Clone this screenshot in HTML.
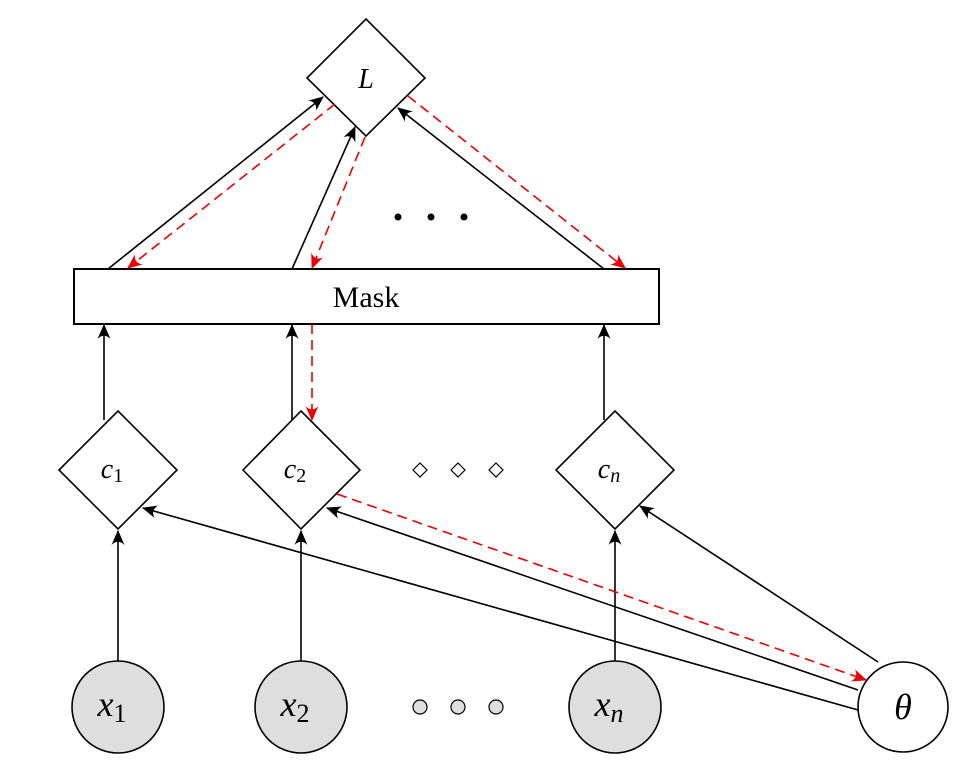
<!DOCTYPE html>
<html><head><meta charset="utf-8"><style>
html,body{margin:0;padding:0;background:#fff;}
svg{display:block;}
text{font-family:"Liberation Serif",serif;}
</style></head><body>
<svg width="963" height="771" viewBox="0 0 963 771" xmlns="http://www.w3.org/2000/svg">
<defs>
<marker id="a" viewBox="0 0 14 12" refX="13" refY="6" markerWidth="15" markerHeight="13" markerUnits="userSpaceOnUse" orient="auto">
<path d="M0,0 Q6,6 0,12 L14,6 Z" fill="#000"/></marker>
<marker id="r" viewBox="0 0 14 12" refX="13" refY="6" markerWidth="15" markerHeight="13" markerUnits="userSpaceOnUse" orient="auto">
<path d="M0,0 Q6,6 0,12 L14,6 Z" fill="#e00"/></marker>
</defs>
<g fill="none" stroke="#000" stroke-width="1.6">
<polygon points="366,19 425,78 366,136 307,78" fill="#fff"/>
<rect x="74" y="269" width="585" height="55" fill="#fff" stroke-width="2"/>
<polygon points="118,411 177,470 118,529 59,470" fill="#fff"/>
<polygon points="301,411 360,470 301,529 243,470" fill="#fff"/>
<polygon points="615,411 674,470 615,529 556,470" fill="#fff"/>
<polygon points="420,463 427,470 420,477 413,470" fill="#fff" stroke-width="1.2"/>
<polygon points="458,463 465,470 458,477 451,470" fill="#fff" stroke-width="1.2"/>
<polygon points="496,463 503,470 496,477 489,470" fill="#fff" stroke-width="1.2"/>
<circle cx="118" cy="707" r="46" fill="#dedede"/>
<circle cx="301" cy="707" r="46" fill="#dedede"/>
<circle cx="615" cy="707" r="46" fill="#dedede"/>
<circle cx="903" cy="707" r="45" fill="#fff"/>
<circle cx="420" cy="707" r="7" fill="#dedede" stroke-width="1.2"/>
<circle cx="458" cy="707" r="7" fill="#dedede" stroke-width="1.2"/>
<circle cx="496" cy="707" r="7" fill="#dedede" stroke-width="1.2"/>

<line x1="108" y1="269" x2="323" y2="97" marker-end="url(#a)"/>
<line x1="292" y1="269" x2="355" y2="127" marker-end="url(#a)"/>
<line x1="604" y1="269" x2="398" y2="108" marker-end="url(#a)"/>
<line x1="104" y1="420" x2="104" y2="325" marker-end="url(#a)"/>
<line x1="292" y1="420" x2="292" y2="325" marker-end="url(#a)"/>
<line x1="604" y1="420" x2="604" y2="325" marker-end="url(#a)"/>
<line x1="118" y1="661" x2="118" y2="531" marker-end="url(#a)"/>
<line x1="301" y1="661" x2="301" y2="531" marker-end="url(#a)"/>
<line x1="615" y1="661" x2="615" y2="531" marker-end="url(#a)"/>
<line x1="858" y1="710" x2="143" y2="508" marker-end="url(#a)"/>
<line x1="858" y1="690" x2="327" y2="508" marker-end="url(#a)"/>
<line x1="878" y1="662" x2="640" y2="506" marker-end="url(#a)"/>
</g>
<g fill="none" stroke="#e00" stroke-width="1.6" stroke-dasharray="10,6">
<line x1="335" y1="104" x2="128" y2="268" marker-end="url(#r)"/>
<line x1="365" y1="137" x2="312" y2="268" marker-end="url(#r)"/>
<line x1="408" y1="96" x2="625" y2="268" marker-end="url(#r)"/>
<line x1="312" y1="324" x2="312" y2="420" marker-end="url(#r)"/>
<line x1="337" y1="494" x2="866" y2="680" marker-end="url(#r)"/>
</g>
<g fill="#000">
<circle cx="398" cy="217" r="3.5"/><circle cx="431" cy="217" r="3.5"/><circle cx="464" cy="217" r="3.5"/>
</g>
<text x="366" y="88" font-size="28" font-style="italic" text-anchor="middle">L</text>
<text x="366" y="307" font-size="30" text-anchor="middle">Mask</text>
<text x="112" y="478" font-size="28" font-style="italic" text-anchor="middle">c<tspan font-style="normal" font-size="20" dy="4">1</tspan></text>
<text x="295" y="478" font-size="28" font-style="italic" text-anchor="middle">c<tspan font-style="normal" font-size="20" dy="4">2</tspan></text>
<text x="609" y="478" font-size="28" font-style="italic" text-anchor="middle">c<tspan font-size="20" dy="4">n</tspan></text>
<text x="112" y="716" font-size="36" font-style="italic" text-anchor="middle">x<tspan font-style="normal" font-size="26" dy="6">1</tspan></text>
<text x="295" y="716" font-size="36" font-style="italic" text-anchor="middle">x<tspan font-style="normal" font-size="26" dy="6">2</tspan></text>
<text x="609" y="716" font-size="36" font-style="italic" text-anchor="middle">x<tspan font-size="26" dy="6">n</tspan></text>
<text x="903" y="719" font-size="36" font-style="italic" text-anchor="middle">θ</text>
</svg>
</body></html>
